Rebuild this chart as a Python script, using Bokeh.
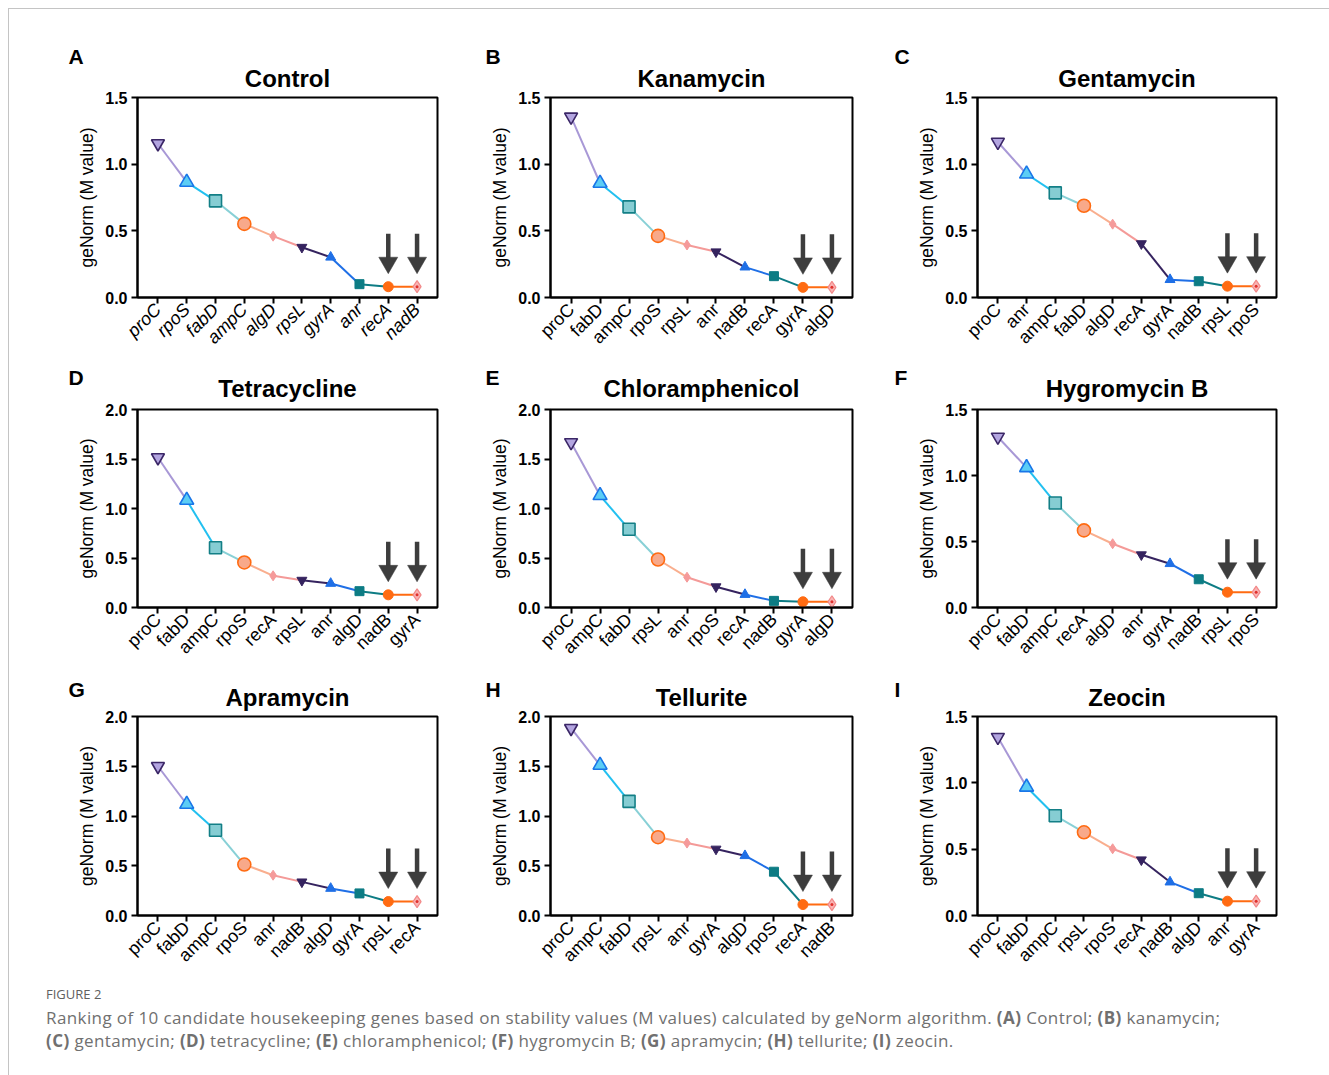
import math
from bokeh.plotting import figure
from bokeh.models import (FactorRange, Range1d, FixedTicker, NumeralTickFormatter,
                          Label, Div, ColumnDataSource)
from bokeh.layouts import row, column
from bokeh.embed import file_html
from bokeh.resources import INLINE

# ---------------- data ----------------
control_genes = ["proC", "rpoS", "fabD", "ampC", "algD", "rpsL", "gyrA", "anr", "recA", "nadB"]
control_m = [1.155, 0.865, 0.725, 0.552, 0.460, 0.377, 0.302, 0.100, 0.081, 0.081]

kanamycin_genes = ["proC", "fabD", "ampC", "rpoS", "rpsL", "anr", "nadB", "recA", "gyrA", "algD"]
kanamycin_m = [1.355, 0.857, 0.680, 0.462, 0.394, 0.343, 0.228, 0.160, 0.076, 0.076]

gentamycin_genes = ["proC", "anr", "ampC", "fabD", "algD", "recA", "gyrA", "nadB", "rpsL", "rpoS"]
gentamycin_m = [1.166, 0.926, 0.785, 0.688, 0.550, 0.404, 0.134, 0.122, 0.085, 0.085]

tetracycline_genes = ["proC", "fabD", "ampC", "rpoS", "recA", "rpsL", "anr", "algD", "nadB", "gyrA"]
tetracycline_m = [1.515, 1.084, 0.603, 0.455, 0.320, 0.276, 0.243, 0.165, 0.128, 0.128]

chloramphenicol_genes = ["proC", "ampC", "fabD", "rpsL", "anr", "rpoS", "recA", "nadB", "gyrA", "algD"]
chloramphenicol_m = [1.667, 1.131, 0.790, 0.485, 0.306, 0.210, 0.131, 0.067, 0.058, 0.058]

hygromycin_genes = ["proC", "fabD", "ampC", "recA", "algD", "anr", "gyrA", "nadB", "rpsL", "rpoS"]
hygromycin_m = [1.292, 1.060, 0.792, 0.584, 0.483, 0.400, 0.332, 0.214, 0.116, 0.116]

apramycin_genes = ["proC", "fabD", "ampC", "rpoS", "anr", "nadB", "algD", "gyrA", "rpsL", "recA"]
apramycin_m = [1.500, 1.118, 0.857, 0.512, 0.405, 0.338, 0.272, 0.222, 0.140, 0.140]

tellurite_genes = ["proC", "ampC", "fabD", "rpsL", "anr", "gyrA", "algD", "rpoS", "recA", "nadB"]
tellurite_m = [1.882, 1.511, 1.147, 0.787, 0.728, 0.668, 0.601, 0.440, 0.110, 0.110]

zeocin_genes = ["proC", "fabD", "ampC", "rpsL", "rpoS", "recA", "nadB", "algD", "anr", "gyrA"]
zeocin_m = [1.344, 0.968, 0.752, 0.627, 0.503, 0.420, 0.252, 0.168, 0.108, 0.108]

panel_letters = ["A", "B", "C", "D", "E", "F", "G", "H", "I"]
panel_titles = ["Control", "Kanamycin", "Gentamycin", "Tetracycline", "Chloramphenicol",
                "Hygromycin B", "Apramycin", "Tellurite", "Zeocin"]
panel_ymax = [1.5, 1.5, 1.5, 2.0, 2.0, 1.5, 2.0, 2.0, 1.5]
yticks_15 = [0.0, 0.5, 1.0, 1.5]
yticks_20 = [0.0, 0.5, 1.0, 1.5, 2.0]
y_label = "geNorm (M value)"

# ---------------- styles ----------------
FONT = "Liberation Sans"
LINE_COLORS = ["#a898d6", "#22c0f0", "#88d0d6", "#f9ae8e", "#f49a98",
               "#35235f", "#1f6fe6", "#0d7c84", "#ff6b12"]
MARKERS = ["inverted_triangle", "triangle", "square", "circle", "diamond",
           "inverted_triangle", "triangle", "square", "circle", "diamond"]
M_SIZE = [13, 14, 12, 13, 10, 10, 10, 9, 10, 12]
M_FILL = ["#b3a5e0", "#5ccdf5", "#86cdd3", "#f8a98a", "#f59a9a",
          "#35235f", "#1f6fe6", "#0d7c84", "#ff6b12", "#f9b4b4"]
M_LINE = ["#3b2767", "#1976e8", "#137f86", "#ff6b12", "#f59a9a",
          "#35235f", "#1f6fe6", "#0d7c84", "#ff6b12", "#f28888"]
M_LW = [1.6, 1.6, 1.6, 1.6, 1, 1, 1, 1, 1, 1.2]
ARROW_COLOR = "#3d3d3d"

# column geometry: (left border, frame width, right border); rows: (top, frame h, bottom)
COLS = [(128, 300, 41), (72, 302, 36), (89, 299, 30)]
ROWS = [(88, 200, 67), (40, 198, 69), (40, 199, 60)]
LETTER_DX = [-69, -65, -83]
LETTER_DY = [41, 27, 27]
TITLE_STANDOFF = [11, 16, 11]


def make_panel(k, genes, m):
    ci, ri = k % 3, k // 3
    lb, fw, rb = COLS[ci]
    tb, fh, bb = ROWS[ri]
    ymax = panel_ymax[k]
    p = figure(x_range=FactorRange(factors=genes, range_padding=0.042),
               y_range=Range1d(0, ymax),
               frame_width=fw, frame_height=fh,
               min_border_left=lb, min_border_right=rb,
               min_border_top=tb, min_border_bottom=bb,
               toolbar_location=None, output_backend="svg",
               title=panel_titles[k])
    p.background_fill_color = "white"
    p.border_fill_color = "white"
    p.xgrid.visible = False
    p.ygrid.visible = False
    p.outline_line_color = "black"
    p.outline_line_width = 2
    p.outline_line_alpha = 1

    p.title.text_font = FONT
    p.title.text_font_size = "24px"
    p.title.text_font_style = "bold"
    p.title.align = "center"
    p.title.text_color = "black"
    p.title.standoff = TITLE_STANDOFF[ri]

    for ax in (p.xaxis[0], p.yaxis[0]):
        ax.axis_line_width = 2
        ax.axis_line_color = "black"
        ax.major_tick_line_width = 2
        ax.major_tick_line_color = "black"
        ax.major_tick_out = 6
        ax.major_tick_in = 0
        ax.minor_tick_line_color = None
        ax.major_label_text_font = FONT
        ax.major_label_text_color = "black"

    ya = p.yaxis[0]
    ya.ticker = FixedTicker(ticks=yticks_20 if ymax > 1.5 else yticks_15)
    ya.formatter = NumeralTickFormatter(format="0.0")
    ya.major_label_text_font_size = "16px"
    ya.major_label_text_font_style = "bold"
    ya.major_label_standoff = 4
    ya.axis_label = y_label
    ya.axis_label_text_font = FONT
    ya.axis_label_text_font_size = "17.5px"
    ya.axis_label_text_font_style = "normal"
    ya.axis_label_text_color = "black"
    ya.axis_label_standoff = 5

    xa = p.xaxis[0]
    xa.major_label_orientation = math.pi / 4
    xa.major_label_text_font_size = "18px"
    xa.major_label_text_font_style = "italic" if k == 0 else "normal"
    xa.major_label_standoff = 3

    # connecting segments
    p.segment(x0=genes[:-1], y0=m[:-1], x1=genes[1:], y1=m[1:],
              line_color=LINE_COLORS, line_width=2)

    # arrows above the two most stable genes
    px = fh / ymax
    tips = [v + 13 / px for v in m[-2:]]
    centers = [t + 11 / px for t in tips]
    tops = [t + 40 / px for t in tips]
    p.segment(x0=genes[-2:], y0=tops, x1=genes[-2:], y1=centers,
              line_color=ARROW_COLOR, line_width=4.5)
    p.scatter(x=genes[-2:], y=centers, marker="inverted_triangle", size=19,
              fill_color=ARROW_COLOR, line_color=ARROW_COLOR, line_width=0.5)

    src = ColumnDataSource(dict(x=genes, y=m, marker=MARKERS, size=M_SIZE,
                                fill=M_FILL, line=M_LINE, lw=M_LW))
    p.scatter(x="x", y="y", marker="marker", size="size", fill_color="fill",
              line_color="line", line_width="lw", source=src)
    p.scatter(x=genes[-1:], y=m[-1:], marker="circle", size=3,
              fill_color="#e0312d", line_color=None)

    # panel letter: placed in a side panel (so it is not clipped to the frame)
    p.add_layout(Label(x=lb + LETTER_DX[ci], y=tb - LETTER_DY[ri],
                       x_units="canvas", y_units="canvas",
                       text=panel_letters[k], text_font=FONT,
                       text_font_size="21px", text_font_style="bold",
                       text_color="black", text_baseline="alphabetic",
                       text_align="left"), "right")
    return p


panels_data = [(control_genes, control_m), (kanamycin_genes, kanamycin_m),
               (gentamycin_genes, gentamycin_m), (tetracycline_genes, tetracycline_m),
               (chloramphenicol_genes, chloramphenicol_m), (hygromycin_genes, hygromycin_m),
               (apramycin_genes, apramycin_m), (tellurite_genes, tellurite_m),
               (zeocin_genes, zeocin_m)]
figs = [make_panel(k, g, v) for k, (g, v) in enumerate(panels_data)]

caption = Div(text=(
    "<div style=\"font-family:'Open Sans'; color:#707070; padding-left:32px;\">"
    "<div style='font-size:13px; line-height:16px; margin-top:6px; margin-bottom:4px; color:#606060;'>FIGURE 2</div>"
    "<div style='font-size:17px; letter-spacing:0.4px; line-height:23px; white-space:nowrap;'>"
    "Ranking of 10 candidate housekeeping genes based on stability values (M values) "
    "calculated by geNorm algorithm. <b>(A)</b> Control; <b>(B)</b> kanamycin;<br>"
    "<b>(C)</b> gentamycin; <b>(D)</b> tetracycline; <b>(E)</b> chloramphenicol; "
    "<b>(F)</b> hygromycin B; <b>(G)</b> apramycin; <b>(H)</b> tellurite; <b>(I)</b> zeocin."
    "</div></div>"), width=1312, height=100)

layout = column(row(*figs[0:3]), row(*figs[3:6]), row(*figs[6:9]), caption,
                margin=(8, 0, 0, 8),
                styles={"border-left": "1px solid #c4c4c4", "border-top": "1px solid #c4c4c4"})

open("out.html", "w").write(file_html(layout, INLINE))
